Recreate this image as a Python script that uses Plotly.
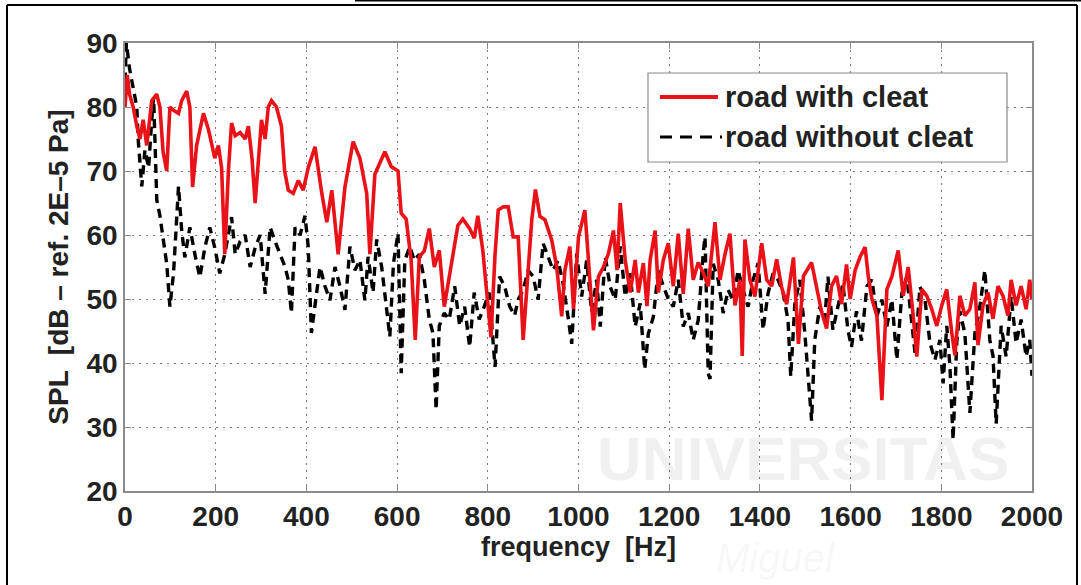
import plotly.graph_objects as go

# ---- data ----
red_freq = [0, 5, 10, 18, 26, 33, 40, 48, 59, 70, 77, 84, 92, 99, 107, 118, 125, 136, 143, 149,
            158, 173, 184, 198, 206, 213, 220, 228, 235, 243, 254, 265, 272, 280, 287, 294, 301, 309,
            316, 323, 334, 345, 352, 360, 371, 382, 393, 404, 419, 434, 445, 456, 470, 485, 503, 518,
            533, 540, 551, 573, 587, 602, 609, 620, 631, 640, 649, 660, 671, 682, 693, 704, 719, 734,
            745, 760, 770, 778, 789, 796, 807, 816, 823, 834, 845, 856, 867, 878, 886, 897, 905, 915,
            926, 941, 952, 963, 970, 981, 989, 1000, 1014, 1022, 1033, 1044, 1055, 1066, 1077, 1085,
            1092, 1103, 1114, 1125, 1132, 1143, 1151, 1158, 1169, 1176, 1187, 1198, 1209, 1220, 1231,
            1242, 1253, 1264, 1275, 1286, 1301, 1312, 1323, 1334, 1345, 1356, 1361, 1367, 1378, 1389,
            1404, 1415, 1426, 1437, 1448, 1459, 1474, 1485, 1496, 1514, 1525, 1536, 1547, 1558, 1569,
            1580, 1591, 1599, 1610, 1621, 1632, 1639, 1647, 1658, 1669, 1680, 1691, 1705, 1716, 1727,
            1738, 1746, 1757, 1768, 1779, 1790, 1801, 1812, 1823, 1830, 1841, 1852, 1863, 1874, 1881,
            1892, 1903, 1914, 1925, 1936, 1947, 1954, 1965, 1976, 1987, 1995, 2000]
red_spl = [80, 85, 82, 80, 77, 75, 78, 74, 81, 82, 80, 73, 70, 80, 79.5, 79, 81, 82.5, 80, 67.5,
           74, 79, 76.5, 72, 74, 70.5, 57, 70, 77.5, 75.5, 76, 75, 77, 72, 65, 72, 78, 75,
           80, 81, 80, 77, 70, 67, 66.5, 68.5, 67, 70.5, 73.8, 66.5, 62, 67, 57, 67.5, 74.6, 72,
           66.5, 57, 69.5, 73, 70.7, 70, 63.4, 62.5, 56, 43.6, 56.6, 57.5, 61, 55, 57.6, 48.8, 55, 61.5,
           62.5, 61, 59.5, 63, 57.6, 52.4, 44, 57, 63.9, 64.4, 64.4, 59.7, 59.7, 43.6, 50.9, 62.4, 67.1, 62.9,
           62.4, 59.2, 55, 47.3, 54.5, 58.2, 48.4, 59.7, 63.9, 56.1, 45.1, 53.5, 55, 57.1, 60.7, 54.5,
           65, 56.1, 51, 56.1, 51, 55.6, 48.9, 56.1, 60.7, 51, 56.1, 58.7, 52, 60.2, 50.8,
           61, 53, 55.7, 54.1, 52, 62, 53, 57, 60.2, 49, 53, 41.1, 59.3, 53, 50.4,
           58.7, 53, 52, 56.2, 51.8, 49.2, 56.5, 43, 53.6, 55.7, 52, 48, 45.4, 52, 53.6,
           49.2, 55.4, 50, 54.5, 56.6, 58.1, 53.5, 50, 47.4, 34.2, 51.5, 53.5, 57.6, 50.5, 55,
           47.4, 41, 51.5, 50.5, 48.4, 45.8, 49, 51.5, 44.8, 41.2, 50.5, 47.4, 48.4, 52.6, 42.8,
           49, 51, 46.9, 52, 50.5, 47.4, 53, 49, 52, 48.4, 53, 50]

black_freq = [0, 3, 10, 18, 26, 29, 37, 44, 52, 59, 63, 66, 70, 77, 84, 92, 99, 107, 118, 125, 132,
              143, 154, 165, 176, 187, 198, 209, 220, 235, 243, 254, 265, 276, 287, 298, 309, 320,
              331, 342, 353, 360, 367, 375, 386, 397, 404, 411, 419, 430, 441, 452, 463, 474, 485,
              496, 507, 518, 529, 536, 547, 555, 566, 577, 584, 592, 602, 609, 617, 628, 638, 649,
              660, 671, 679, 686, 693, 704, 715, 727, 738, 749, 760, 770, 781, 792, 803, 808, 816,
              826, 837, 848, 859, 867, 878, 889, 900, 911, 922, 933, 944, 955, 966, 977, 985, 996,
              1007, 1018, 1029, 1040, 1048, 1059, 1070, 1081, 1092, 1103, 1114, 1125, 1136, 1146, 1154,
              1165, 1176, 1187, 1198, 1209, 1220, 1231, 1242, 1253, 1264, 1275, 1279, 1286, 1290, 1297,
              1308, 1319, 1330, 1341, 1352, 1363, 1374, 1385, 1396, 1407, 1418, 1429, 1440, 1451, 1462,
              1468, 1477, 1488, 1499, 1514, 1521, 1532, 1543, 1550, 1561, 1572, 1583, 1594, 1602, 1613,
              1624, 1636, 1647, 1658, 1669, 1680, 1691, 1702, 1713, 1724, 1735, 1742, 1753, 1764, 1775,
              1786, 1797, 1804, 1812, 1819, 1826, 1834, 1841, 1852, 1863, 1874, 1885, 1896, 1907, 1914,
              1921, 1932, 1943, 1954, 1965, 1976, 1987, 1995, 2000]
black_spl = [84, 90, 86, 83, 80, 75, 67.6, 73.3, 70.5, 78, 81.5, 75, 65.5, 63, 59, 55.5, 48.8, 54, 67.6, 60.7, 56.5,
             61.2, 57, 53.4, 58, 61.2, 58, 54, 57, 62.8, 57, 59, 60, 55, 58, 60, 50.8, 61.2,
             59, 57, 55, 53, 47.8, 61.2, 60, 63, 58.2, 44.7, 48.8, 55, 52, 49.8, 55, 52, 48.3,
             58.2, 54.5, 56.1, 49.8, 56.6, 51, 59.3, 55, 48.8, 44.1, 55.6, 60.3, 38.4, 56, 58.2, 56, 57,
             53, 46.8, 44.7, 32.7, 45.8, 47.8, 46.8, 52, 45.8, 48.8, 42.5, 51, 46.8, 48.8, 51, 46.6, 39.4,
             53.5, 52, 48.9, 47.4, 49.9, 51.4, 54.5, 53.5, 49.9, 58.7, 56.6, 54.5, 56, 52.4, 47.2, 43, 57.1,
             50.4, 56, 48, 53, 45.7, 56.6, 51.9, 49.9, 58.2, 50.4, 54, 45.7, 49.3, 39, 44.6,
             47.2, 54.5, 52, 50, 48.8, 53, 45.7, 47.8, 43.6, 46.7, 57.1, 59.7, 38.4, 37.5, 55.5,
             53, 47.8, 51.4, 49.8, 54.5, 51.4, 48.8, 53, 55.6, 45.2, 50.9, 54, 53, 51, 46.7,
             37.9, 49.2, 53, 44.7, 31, 43.6, 48.8, 46.7, 53.5, 45.2, 48.8, 52.4, 45.2, 42.5, 48.1,
             43.5, 52, 53, 47.3, 49.9, 45.7, 49.9, 40.5, 50.9, 53.5, 46.8, 41.6, 51.9, 49.9, 43.1,
             40.5, 43.6, 36.8, 45.8, 39.5, 28, 43.1, 48.1, 44.6, 32.2, 44.6, 48.8, 54.5, 43.6, 41.1,
             30.5, 45.8, 41, 50.4, 43.1, 46.8, 41, 43.6, 38]

x_ticks = [0, 200, 400, 600, 800, 1000, 1200, 1400, 1600, 1800, 2000]
y_ticks = [20, 30, 40, 50, 60, 70, 80, 90]
series_names = ["road with cleat", "road without cleat"]

RED = "rgb(232,18,24)"
FONT = "Liberation Sans, Arial, sans-serif"

fig = go.Figure()
fig.add_trace(go.Scatter(x=black_freq, y=black_spl, mode="lines", name=series_names[1],
                         line=dict(color="black", width=3.4, dash="9px,6px"), showlegend=False))
fig.add_trace(go.Scatter(x=red_freq, y=red_spl, mode="lines", name=series_names[0],
                         line=dict(color=RED, width=3.6), showlegend=False))

W, H = 1081, 585
L, R, T, B = 125, 1032, 43, 491


def px(xp):
    return (xp - L) / (R - L)


def py(yp):
    return (B - yp) / (B - T)


shapes = []
# outer frame of the picture
for (x0, y0, x1, y1) in [(7, 5, 1077, 5), (7, 5, 7, 585), (1077, 5, 1077, 585), (355, 0.5, 1081, 0.5)]:
    shapes.append(dict(type="line", xref="paper", yref="paper", x0=px(x0), y0=py(y0), x1=px(x1), y1=py(y1),
                       line=dict(color="black", width=2)))
# legend box
shapes.append(dict(type="rect", xref="paper", yref="paper", x0=px(648), y0=py(162), x1=px(1007), y1=py(73),
                   fillcolor="white", line=dict(color="#8a8a8a", width=1.2), layer="above"))
shapes.append(dict(type="line", xref="paper", yref="paper", x0=px(660), y0=py(97), x1=px(718), y1=py(97),
                   line=dict(color=RED, width=4), layer="above"))
shapes.append(dict(type="line", xref="paper", yref="paper", x0=px(660), y0=py(137), x1=px(722), y1=py(137),
                   line=dict(color="black", width=3, dash="12px,8px"), layer="above"))

annotations = [
    dict(text=series_names[0], xref="paper", yref="paper", x=px(723), y=py(97), xanchor="left", yanchor="middle",
         showarrow=False, font=dict(family=FONT, size=29, color="#222", weight="bold")),
    dict(text=series_names[1], xref="paper", yref="paper", x=px(723), y=py(137), xanchor="left", yanchor="middle",
         showarrow=False, font=dict(family=FONT, size=29, color="#222", weight="bold")),
    # faint watermark
    dict(text="UNIVERSITAS", xref="paper", yref="paper", x=px(803), y=py(458), xanchor="center",
         yanchor="middle", showarrow=False,
         font=dict(family=FONT, size=62, color="rgba(0,0,0,0.06)", weight="bold")),
    dict(text="<i>Miguel</i>", xref="paper", yref="paper", x=px(775), y=py(582), xanchor="center",
         yanchor="bottom", showarrow=False, font=dict(family=FONT, size=40, color="rgba(0,0,0,0.05)")),
]

axis_common = dict(showline=True, mirror="ticks", linecolor="#8c8c8c", linewidth=1.5,
                   ticks="inside", ticklen=6, tickcolor="#8c8c8c",
                   showgrid=True, gridcolor="#7a7a7a", griddash="2px,5px", gridwidth=1.3,
                   zeroline=False, tickfont=dict(family=FONT, size=28, color="#222", weight="bold"))

fig.update_layout(
    width=W, height=H,
    margin=dict(l=L, r=W - R, t=T, b=H - B),
    paper_bgcolor="white", plot_bgcolor="white",
    xaxis=dict(range=[0, 2000], tickvals=x_ticks, ticktext=[str(v) for v in x_ticks],
               title=dict(text="frequency  [Hz]", font=dict(family=FONT, size=27, color="#222", weight="bold"),
                          standoff=4),
               **axis_common),
    yaxis=dict(range=[20, 90], tickvals=y_ticks, ticktext=[str(v) for v in y_ticks],
               title=dict(text="SPL  [dB \u2013 ref. 2E\u20135 Pa]",
                          font=dict(family=FONT, size=28, color="#222", weight="bold"), standoff=10),
               **axis_common),
    shapes=shapes, annotations=annotations,
)

fig.write_html("out.html")
